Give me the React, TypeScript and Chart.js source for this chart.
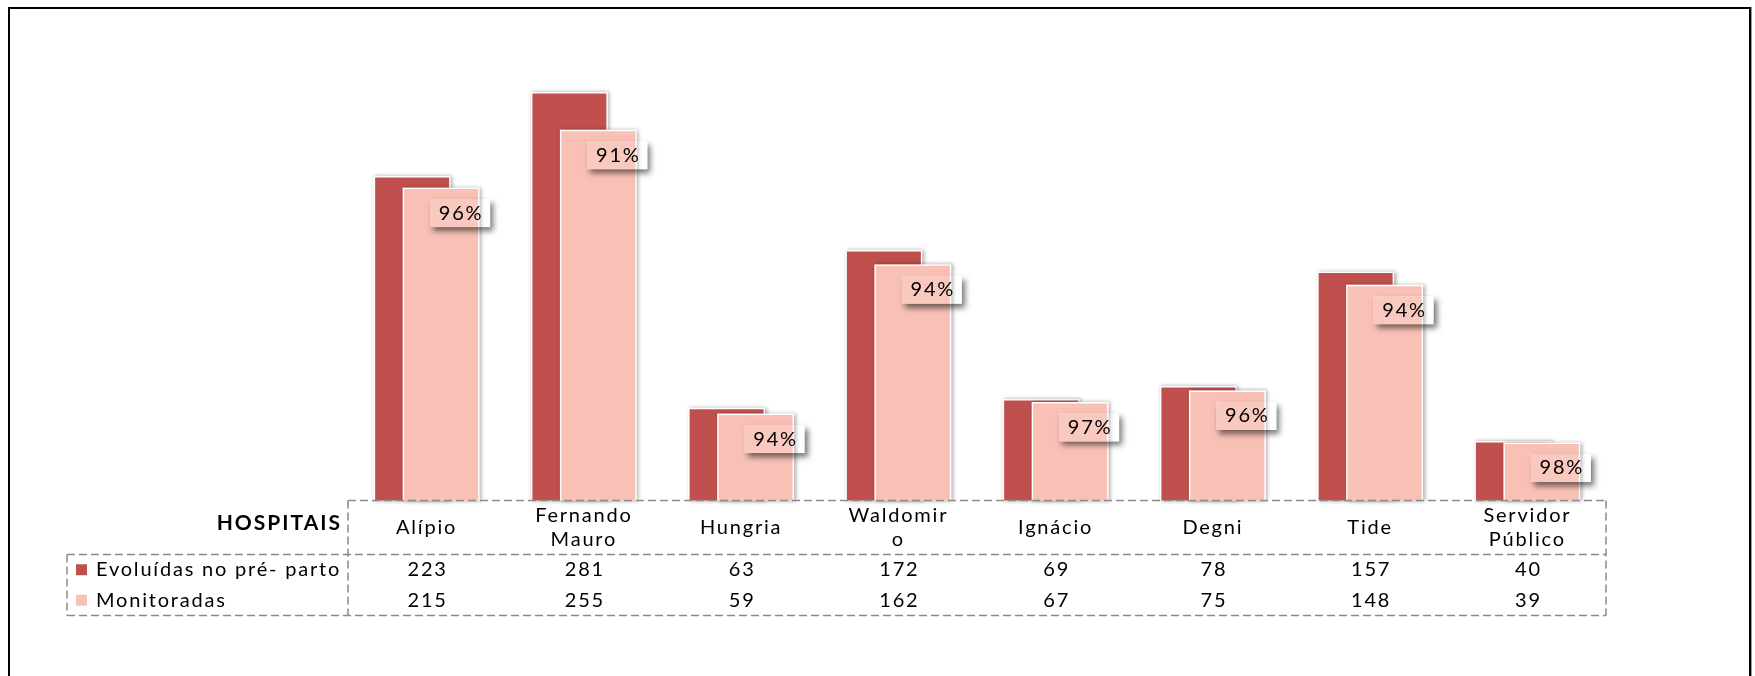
import React, { useEffect, useRef } from 'react';
import { Chart, registerables } from 'chart.js';

Chart.register(...registerables);

// ---- data ----
const hospitals: string[][] = [
  ['Alípio'],
  ['Fernando', 'Mauro'],
  ['Hungria'],
  ['Waldomir', 'o'],
  ['Ignácio'],
  ['Degni'],
  ['Tide'],
  ['Servidor', 'Público'],
];
const evoluidas = [223, 281, 63, 172, 69, 78, 157, 40];
const monitoradas = [215, 255, 59, 162, 67, 75, 148, 39];
const seriesNames = ['Evoluídas no pré- parto', 'Monitoradas'];
const tableTitle = 'HOSPITAIS';
const yMax = 300;

// ---- style ----
const DARK = '#C0504D';
const LIGHT = '#F9C1B6';
const FONT = 'Lato, "Noto Sans", sans-serif';
const SPACING = '1.8px';
const FS = 20;

const W = 1755;
const H = 676;

const drawOrderPlugin = {
  id: 'drawOrder',
  beforeDraw(chart: any) {
    chart.ctx.letterSpacing = SPACING;
  },
  beforeDatasetsDraw(chart: any) {
    const ctx = chart.ctx;
    [0, 1].forEach((di) => {
      const meta = chart.getDatasetMeta(di);
      meta.data.forEach((el: any) => {
        const { x, y, base, width } = el.getProps(['x', 'y', 'base', 'width'], true);
        ctx.save();
        ctx.shadowColor = 'rgba(0,0,0,0.35)';
        ctx.shadowBlur = 4;
        ctx.shadowOffsetX = 1.5;
        ctx.shadowOffsetY = 0;
        ctx.fillStyle = '#ffffff';
        ctx.fillRect(x - width / 2 - 1.5, y - 1.5, width + 3, base - y + 1.5);
        ctx.restore();
      });
      meta.controller.draw();
    });
    return false;
  },
};

const tablePlugin = {
  id: 'dataTable',
  afterDraw(chart: any) {
    const ctx = chart.ctx;
    const xs = chart.scales.x;
    const area = chart.chartArea;
    const tableTop = area.bottom;
    const headerBottom = xs.bottom;
    const rowH = 30.5;
    const row1 = headerBottom + rowH / 2;
    const row2 = headerBottom + rowH * 1.5;
    const tableBottom = headerBottom + rowH * 2;
    const legendLeft = 67;

    ctx.save();
    ctx.letterSpacing = SPACING;

    // percentage labels
    const metaLight = chart.getDatasetMeta(1);
    metaLight.data.forEach((el: any, i: number) => {
      const { x, y } = el.getProps(['x', 'y'], true);
      const pct = Math.round((monitoradas[i] / evoluidas[i]) * 100) + '%';
      const cx = x + 19;
      const cy = y + 24;
      const bw = 60;
      const bh = 28;
      const bx = cx - bw / 2;
      const by = cy - bh / 2;
      ctx.save();
      ctx.beginPath();
      ctx.rect(0, 0, W, H);
      ctx.rect(bx, by, bw, bh);
      ctx.clip('evenodd');
      ctx.shadowColor = 'rgba(0,0,0,0.55)';
      ctx.shadowBlur = 6;
      ctx.shadowOffsetX = 3;
      ctx.shadowOffsetY = 4;
      ctx.fillStyle = '#ffffff';
      ctx.fillRect(bx, by, bw, bh);
      ctx.restore();
      ctx.fillStyle = 'rgba(255,255,255,0.12)';
      ctx.fillRect(bx, by, bw, bh);
      ctx.fillStyle = '#000';
      ctx.font = `${FS}px ${FONT}`;
      ctx.textAlign = 'center';
      ctx.textBaseline = 'middle';
      ctx.fillText(pct, cx + 1, cy);
    });

    // dashed grid of the data table
    ctx.strokeStyle = '#8a8a8a';
    ctx.lineWidth = 1.5;
    ctx.setLineDash([8, 4]);
    const line = (x1: number, y1: number, x2: number, y2: number) => {
      ctx.beginPath();
      ctx.moveTo(x1, y1);
      ctx.lineTo(x2, y2);
      ctx.stroke();
    };
    line(area.left, tableTop, area.right, tableTop);
    line(legendLeft, headerBottom, area.right, headerBottom);
    line(legendLeft, tableBottom, area.right, tableBottom);
    line(area.left, tableTop, area.left, tableBottom);
    line(area.right, tableTop, area.right, tableBottom);
    line(legendLeft, headerBottom, legendLeft, tableBottom);
    ctx.setLineDash([]);

    // header title
    ctx.fillStyle = '#000';
    ctx.font = `bold 21px ${FONT}`;
    ctx.letterSpacing = '2px';
    ctx.textAlign = 'right';
    ctx.textBaseline = 'middle';
    ctx.fillText(tableTitle, area.left - 6, tableTop + 23);
    ctx.letterSpacing = SPACING;

    // legend rows
    const rows = [
      { y: row1, name: seriesNames[0], color: DARK, values: evoluidas },
      { y: row2, name: seriesNames[1], color: LIGHT, values: monitoradas },
    ];
    rows.forEach((r) => {
      ctx.fillStyle = r.color;
      ctx.fillRect(legendLeft + 9, r.y - 5.5, 11, 11);
      ctx.fillStyle = '#000';
      ctx.font = `${FS}px ${FONT}`;
      ctx.textAlign = 'left';
      ctx.fillText(r.name, legendLeft + 29, r.y);
      ctx.textAlign = 'center';
      r.values.forEach((v, i) => {
        ctx.fillText(String(v), xs.getPixelForValue(i) + 1, r.y);
      });
    });
    ctx.restore();
  },
};

export default function App() {
  const canvasRef = useRef<HTMLCanvasElement | null>(null);

  useEffect(() => {
    const canvas = canvasRef.current;
    if (!canvas) return;
    const chart = new Chart(canvas, {
      type: 'bar',
      data: {
        labels: hospitals,
        datasets: [
          {
            label: seriesNames[0],
            data: evoluidas,
            backgroundColor: DARK,
            borderWidth: 0,
          },
          {
            label: seriesNames[1],
            data: monitoradas,
            backgroundColor: LIGHT,
            borderWidth: 0,
          },
        ],
      },
      options: {
        responsive: false,
        animation: false,
        devicePixelRatio: 1,
        categoryPercentage: 0.369,
        barPercentage: 2.55,
        layout: { padding: { left: 348, right: W - 1606, top: 66, bottom: 121.5 } },
        plugins: {
          legend: { display: false },
          tooltip: { enabled: false },
          title: { display: false },
        },
        scales: {
          y: { display: false, min: 0, max: yMax },
          x: {
            display: true,
            position: 'bottom',
            grid: { display: false, drawTicks: false },
            border: { display: false },
            ticks: {
              color: '#000',
              font: { family: FONT, size: FS, lineHeight: 1.2 },
              padding: 15,
              maxRotation: 0,
              minRotation: 0,
              autoSkip: false,
              crossAlign: 'center',
            },
            afterFit: (scale: any) => {
              scale.height = 54;
            },
          },
        },
      } as any,
      plugins: [drawOrderPlugin, tablePlugin],
    });
    return () => chart.destroy();
  }, []);

  return (
    <div>
      <div
        style={{
          position: 'fixed',
          left: 8,
          top: 7,
          width: 1743,
          height: 720,
          border: '2px solid #000',
          boxSizing: 'border-box',
          boxShadow: '1px 0 0 #999',
          background: '#fff',
        }}
      />
      <canvas
        ref={canvasRef}
        width={W}
        height={H}
        style={{ position: 'fixed', left: 0, top: 0, width: W, height: H }}
      />
    </div>
  );
}
